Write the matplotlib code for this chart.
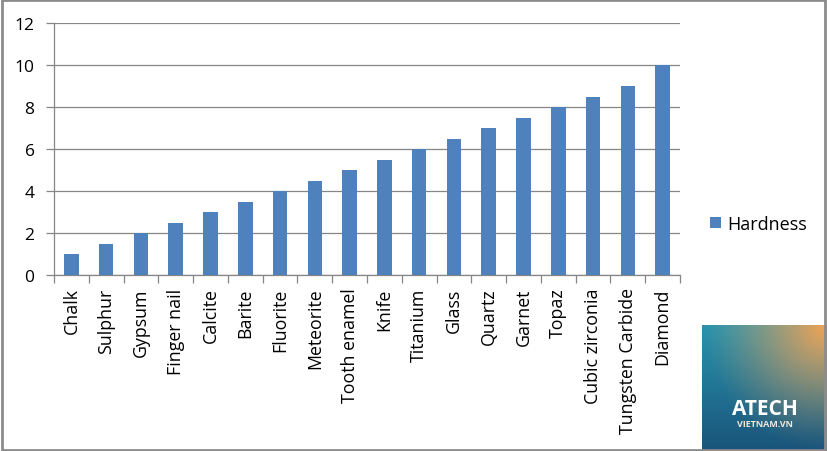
import matplotlib.pyplot as plt
import numpy as np
from matplotlib.patches import Rectangle

minerals = ['Chalk', 'Sulphur', 'Gypsum', 'Finger nail', 'Calcite', 'Barite',
            'Fluorite', 'Meteorite', 'Tooth enamel', 'Knife', 'Titanium', 'Glass',
            'Quartz', 'Garnet', 'Topaz', 'Cubic zirconia', 'Tungsten Carbide', 'Diamond']
hardness = [1, 1.5, 2, 2.5, 3, 3.5, 4, 4.5, 5, 5.5, 6, 6.5, 7, 7.5, 8, 8.5, 9, 10]
y_ticks = [0, 2, 4, 6, 8, 10, 12]

plt.rcParams['font.family'] = ['Open Sans', 'DejaVu Sans']

fig = plt.figure(figsize=(8.27, 4.52), dpi=100)
ax = fig.add_axes([54 / 827, 1 - 276 / 452, (680 - 54) / 827, (276 - 24) / 452])

x = np.arange(len(minerals))
bars = ax.bar(x, hardness, width=0.42, color='#4F81BD', label='Hardness', zorder=3)

ax.set_xlim(-0.5, len(minerals) - 0.5)
ax.set_ylim(0, 12)
ax.set_yticks(y_ticks)
ax.set_yticklabels([str(v) for v in y_ticks], fontsize=12.5)
ax.yaxis.grid(True, color='#868686', linewidth=0.9, zorder=0)
ax.tick_params(axis='y', length=6, width=0.9, color='#868686', pad=8)

# category labels at centers, tick marks at boundaries
ax.set_xticks(x)
ax.set_xticklabels(minerals, rotation=90, fontsize=12.8)
ax.tick_params(axis='x', length=0, pad=9)
ax.set_xticks(np.arange(len(minerals) + 1) - 0.5, minor=True)
ax.tick_params(axis='x', which='minor', length=6, width=0.9, color='#868686')

for side in ['top', 'right']:
    ax.spines[side].set_visible(False)
for side in ['left', 'bottom']:
    ax.spines[side].set_color('#868686')
    ax.spines[side].set_linewidth(0.9)

fig.legend(handles=[bars], labels=['Hardness'], loc='center left',
           bbox_to_anchor=(694 / 827, 1 - 225 / 452), frameon=False,
           fontsize=13, handlelength=0.6, handleheight=0.6, handletextpad=0.35)

# outer chart border
fig.patches.append(Rectangle((0.002, 0.003), 0.996, 0.994, transform=fig.transFigure,
                             fill=False, edgecolor='#8c8c8c', linewidth=2))

# watermark logo
lax = fig.add_axes([702 / 827, 0, 125 / 827, 126 / 452])
gx, gy = np.meshgrid(np.linspace(0, 1, 120), np.linspace(0, 1, 120))
dark = np.array([0.10, 0.33, 0.48])
light = np.array([0.16, 0.58, 0.68])
orange = np.array([0.95, 0.64, 0.33])
base = dark * (1 - gy[..., None]) + light * gy[..., None]
d = np.sqrt((1 - gx) ** 2 + (1 - gy) ** 2)
w = np.clip(1 - d / 1.0, 0, 1)[..., None] ** 1.2
img = base * (1 - w) + orange * w
lax.imshow(img, origin='lower', extent=[0, 1, 0, 1], aspect='auto')
lax.text(0.5, 0.335, 'ATECH', color='white', fontsize=15, fontweight='bold',
         ha='center', va='center')
lax.text(0.5, 0.215, 'VIETNAM.VN', color='#f0e6d8', fontsize=6.5, fontweight='bold',
         ha='center', va='center')
lax.set_xlim(0, 1)
lax.set_ylim(0, 1)
lax.axis('off')

fig.savefig('out.png', dpi=100)
